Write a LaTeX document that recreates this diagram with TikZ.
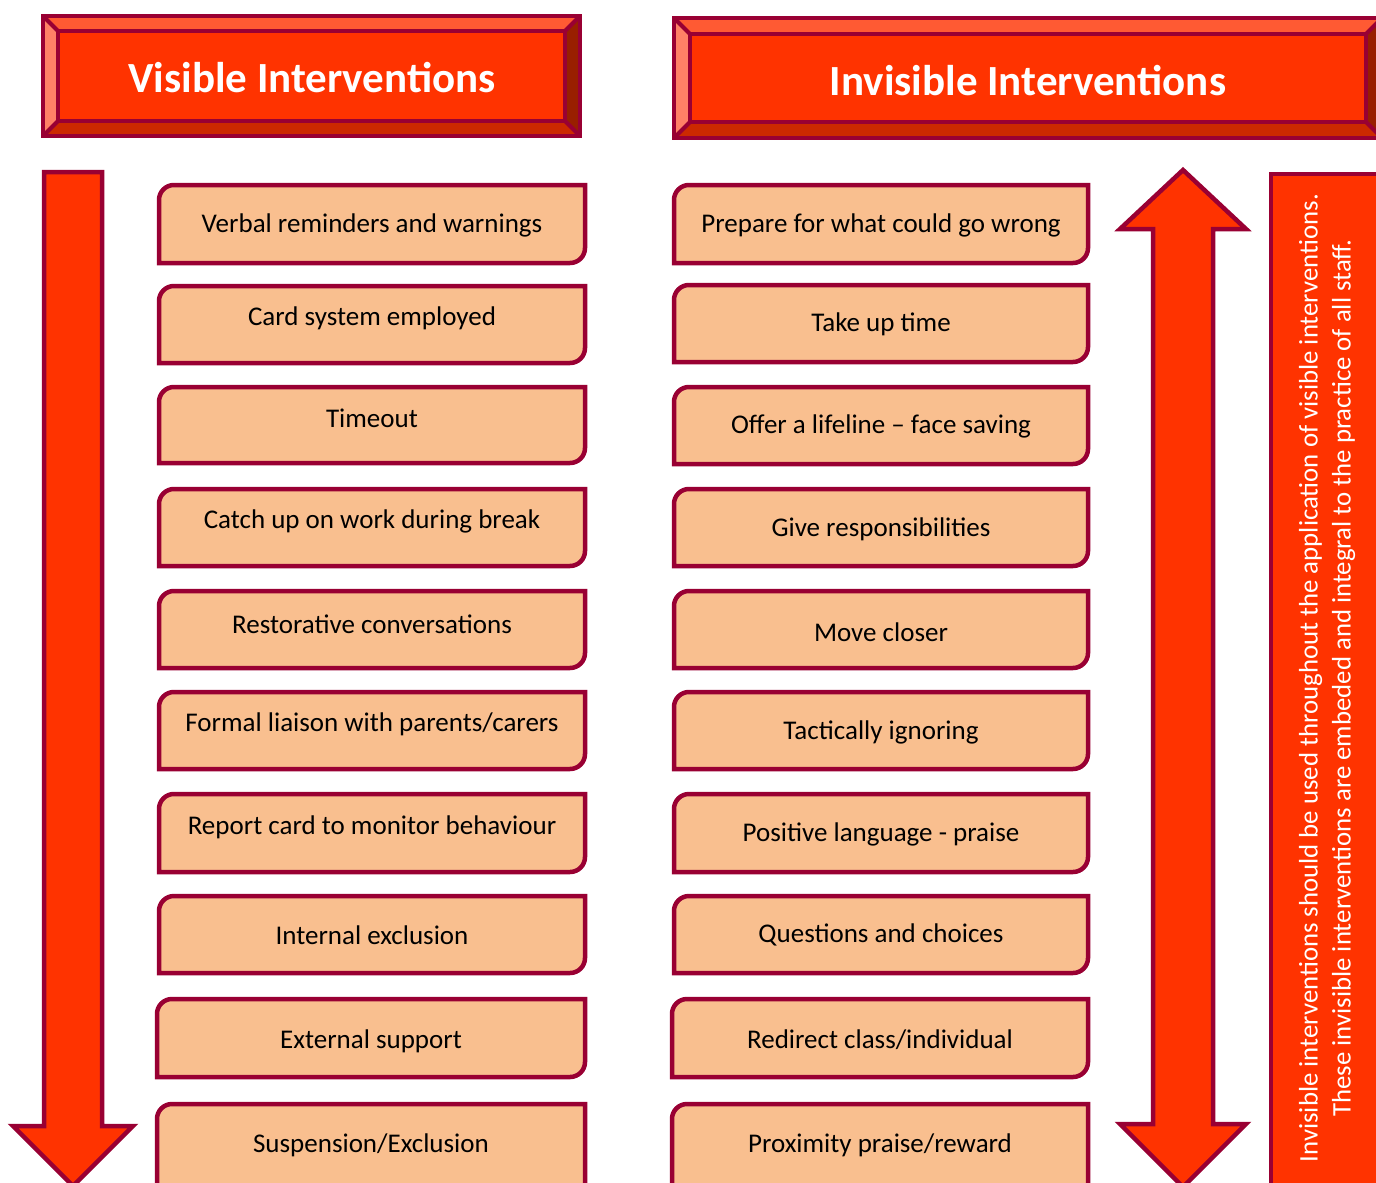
\documentclass[tikz,border=0pt]{standalone}
\usepackage{fontspec}
\setmainfont{Carlito}
\usetikzlibrary{calc}
\definecolor{flame}{HTML}{FF3300}
\definecolor{wine}{HTML}{990033}
\definecolor{peach}{HTML}{F9BF8F}
\definecolor{bevtop}{HTML}{FF5A33}
\definecolor{bevleft}{HTML}{FF8066}
\definecolor{bevbot}{HTML}{CC2900}
\definecolor{bevright}{HTML}{991F00}

\tikzset{
  outline/.style={draw=wine, line width=4, line join=miter},
  cardline/.style={draw=wine, fill=peach, line width=4.5},
  cardtext/.style={inner sep=0, font=\fontsize{27}{30}\selectfont, text=black},
  headtext/.style={inner sep=0, font=\fontsize{43}{46}\selectfont\bfseries, text=white},
  arrowshape/.style={draw=wine, fill=flame, line width=4.5, line join=miter},
}

% bevelled header plate: outer x1,y1,x2,y2 and bevel inset
\newcommand\bevelplate[5]{%
  \fill[bevtop]   (#1,#2) -- (#3,#2) -- (#3-#5,#2+#5) -- (#1+#5,#2+#5) -- cycle;
  \fill[bevbot]   (#1,#4) -- (#3,#4) -- (#3-#5,#4-#5) -- (#1+#5,#4-#5) -- cycle;
  \fill[bevleft]  (#1,#2) -- (#1+#5,#2+#5) -- (#1+#5,#4-#5) -- (#1,#4) -- cycle;
  \fill[bevright] (#3,#2) -- (#3-#5,#2+#5) -- (#3-#5,#4-#5) -- (#3,#4) -- cycle;
  \fill[flame] (#1+#5,#2+#5) rectangle (#3-#5,#4-#5);
  \draw[outline] (#1,#2) rectangle (#3,#4);
  \draw[outline] (#1+#5,#2+#5) rectangle (#3-#5,#4-#5);
  \draw[outline] (#1,#2) -- (#1+#5,#2+#5) (#3,#2) -- (#3-#5,#2+#5)
                 (#1,#4) -- (#1+#5,#4-#5) (#3,#4) -- (#3-#5,#4-#5);
}

% card with rounded top-left and bottom-right corners: name, x1, y1, x2, y2, text y, text
\newcommand\card[7]{%
  \filldraw[cardline] (#2,#5) -- (#2,#3+15) .. controls (#2,#3+6.7) and (#2+6.7,#3) .. (#2+15,#3)
     -- (#4,#3) -- (#4,#5-15) .. controls (#4,#5-6.7) and (#4-6.7,#5) .. (#4-15,#5) -- cycle;
  \node[cardtext] (#1) at ({(#2+#4)/2},#6) {#7};
}

\begin{document}
\begin{tikzpicture}[x=1pt,y=-1pt]
\useasboundingbox (0,0) rectangle (1376,1183);
\clip (0,0) rectangle (1376,1183);
\fill[white] (0,0) rectangle (1376,1183);

% headers
\bevelplate{43}{16}{580}{136}{15}
\node[headtext] (hvis) at (312,78) {Visible Interventions};
\bevelplate{674}{18}{1382}{138}{16}
\node[headtext] (hinv) at (1028,81) {Invisible Interventions};

% downward arrow beside the visible interventions
\draw[arrowshape] (44,172) -- (102,172) -- (102,1126) -- (133,1126) -- (73,1186)
   -- (13,1126) -- (44,1126) -- cycle;

% two-headed arrow beside the invisible interventions
\draw[arrowshape] (1183,170) -- (1246,229) -- (1213,229) -- (1213,1124) -- (1246,1124)
   -- (1183,1187) -- (1120,1124) -- (1153,1124) -- (1153,229) -- (1120,229) -- cycle;

% side note panel
\draw[arrowshape] (1271,174) rectangle (1390,1200);
\node[rotate=90, align=center, inner sep=0, text=white,
      font=\fontsize{26.8}{33}\selectfont] (note) at (1327,678)
  {Invisible interventions should be used throughout the application of visible interventions.\\
   These invisible interventions are embeded and integral to the practice of all staff.};

% visible interventions
\card{v1}{159}{185}{585}{263}{225}{Verbal reminders and warnings}
\card{v2}{159}{286}{585}{363}{318}{Card system employed}
\card{v3}{159}{387}{585}{463}{418}{Timeout}
\card{v4}{159}{489}{585}{566}{521}{Catch up on work during break}
\card{v5}{159}{591}{585}{668}{624}{Restorative conversations}
\card{v6}{159}{692}{585}{769}{724}{Formal liaison with parents/carers}
\card{v7}{159}{794}{585}{872}{827}{Report card to monitor behaviour}
\card{v8}{159}{896}{585}{973}{935}{Internal exclusion}
\card{v9}{157}{999}{585}{1077}{1041}{External support}
\card{v10}{157}{1104}{585}{1200}{1145}{Suspension/Exclusion}

% invisible interventions
\card{i1}{674}{185}{1088}{263}{225}{Prepare for what could go wrong}
\card{i2}{674}{285}{1088}{362}{324}{Take up time}
\card{i3}{674}{387}{1088}{464}{426}{Offer a lifeline -- face saving}
\card{i4}{674}{489}{1088}{566}{529}{Give responsibilities}
\card{i5}{674}{591}{1088}{668}{632}{Move closer}
\card{i6}{674}{692}{1088}{769}{732}{Tactically ignoring}
\card{i7}{674}{794}{1088}{872}{834}{Positive language - praise}
\card{i8}{674}{896}{1088}{973}{935}{Questions and choices}
\card{i9}{672}{999}{1088}{1077}{1040}{Redirect class/individual}
\card{i10}{672}{1104}{1088}{1200}{1145}{Proximity praise/reward}
\end{tikzpicture}
\end{document}
